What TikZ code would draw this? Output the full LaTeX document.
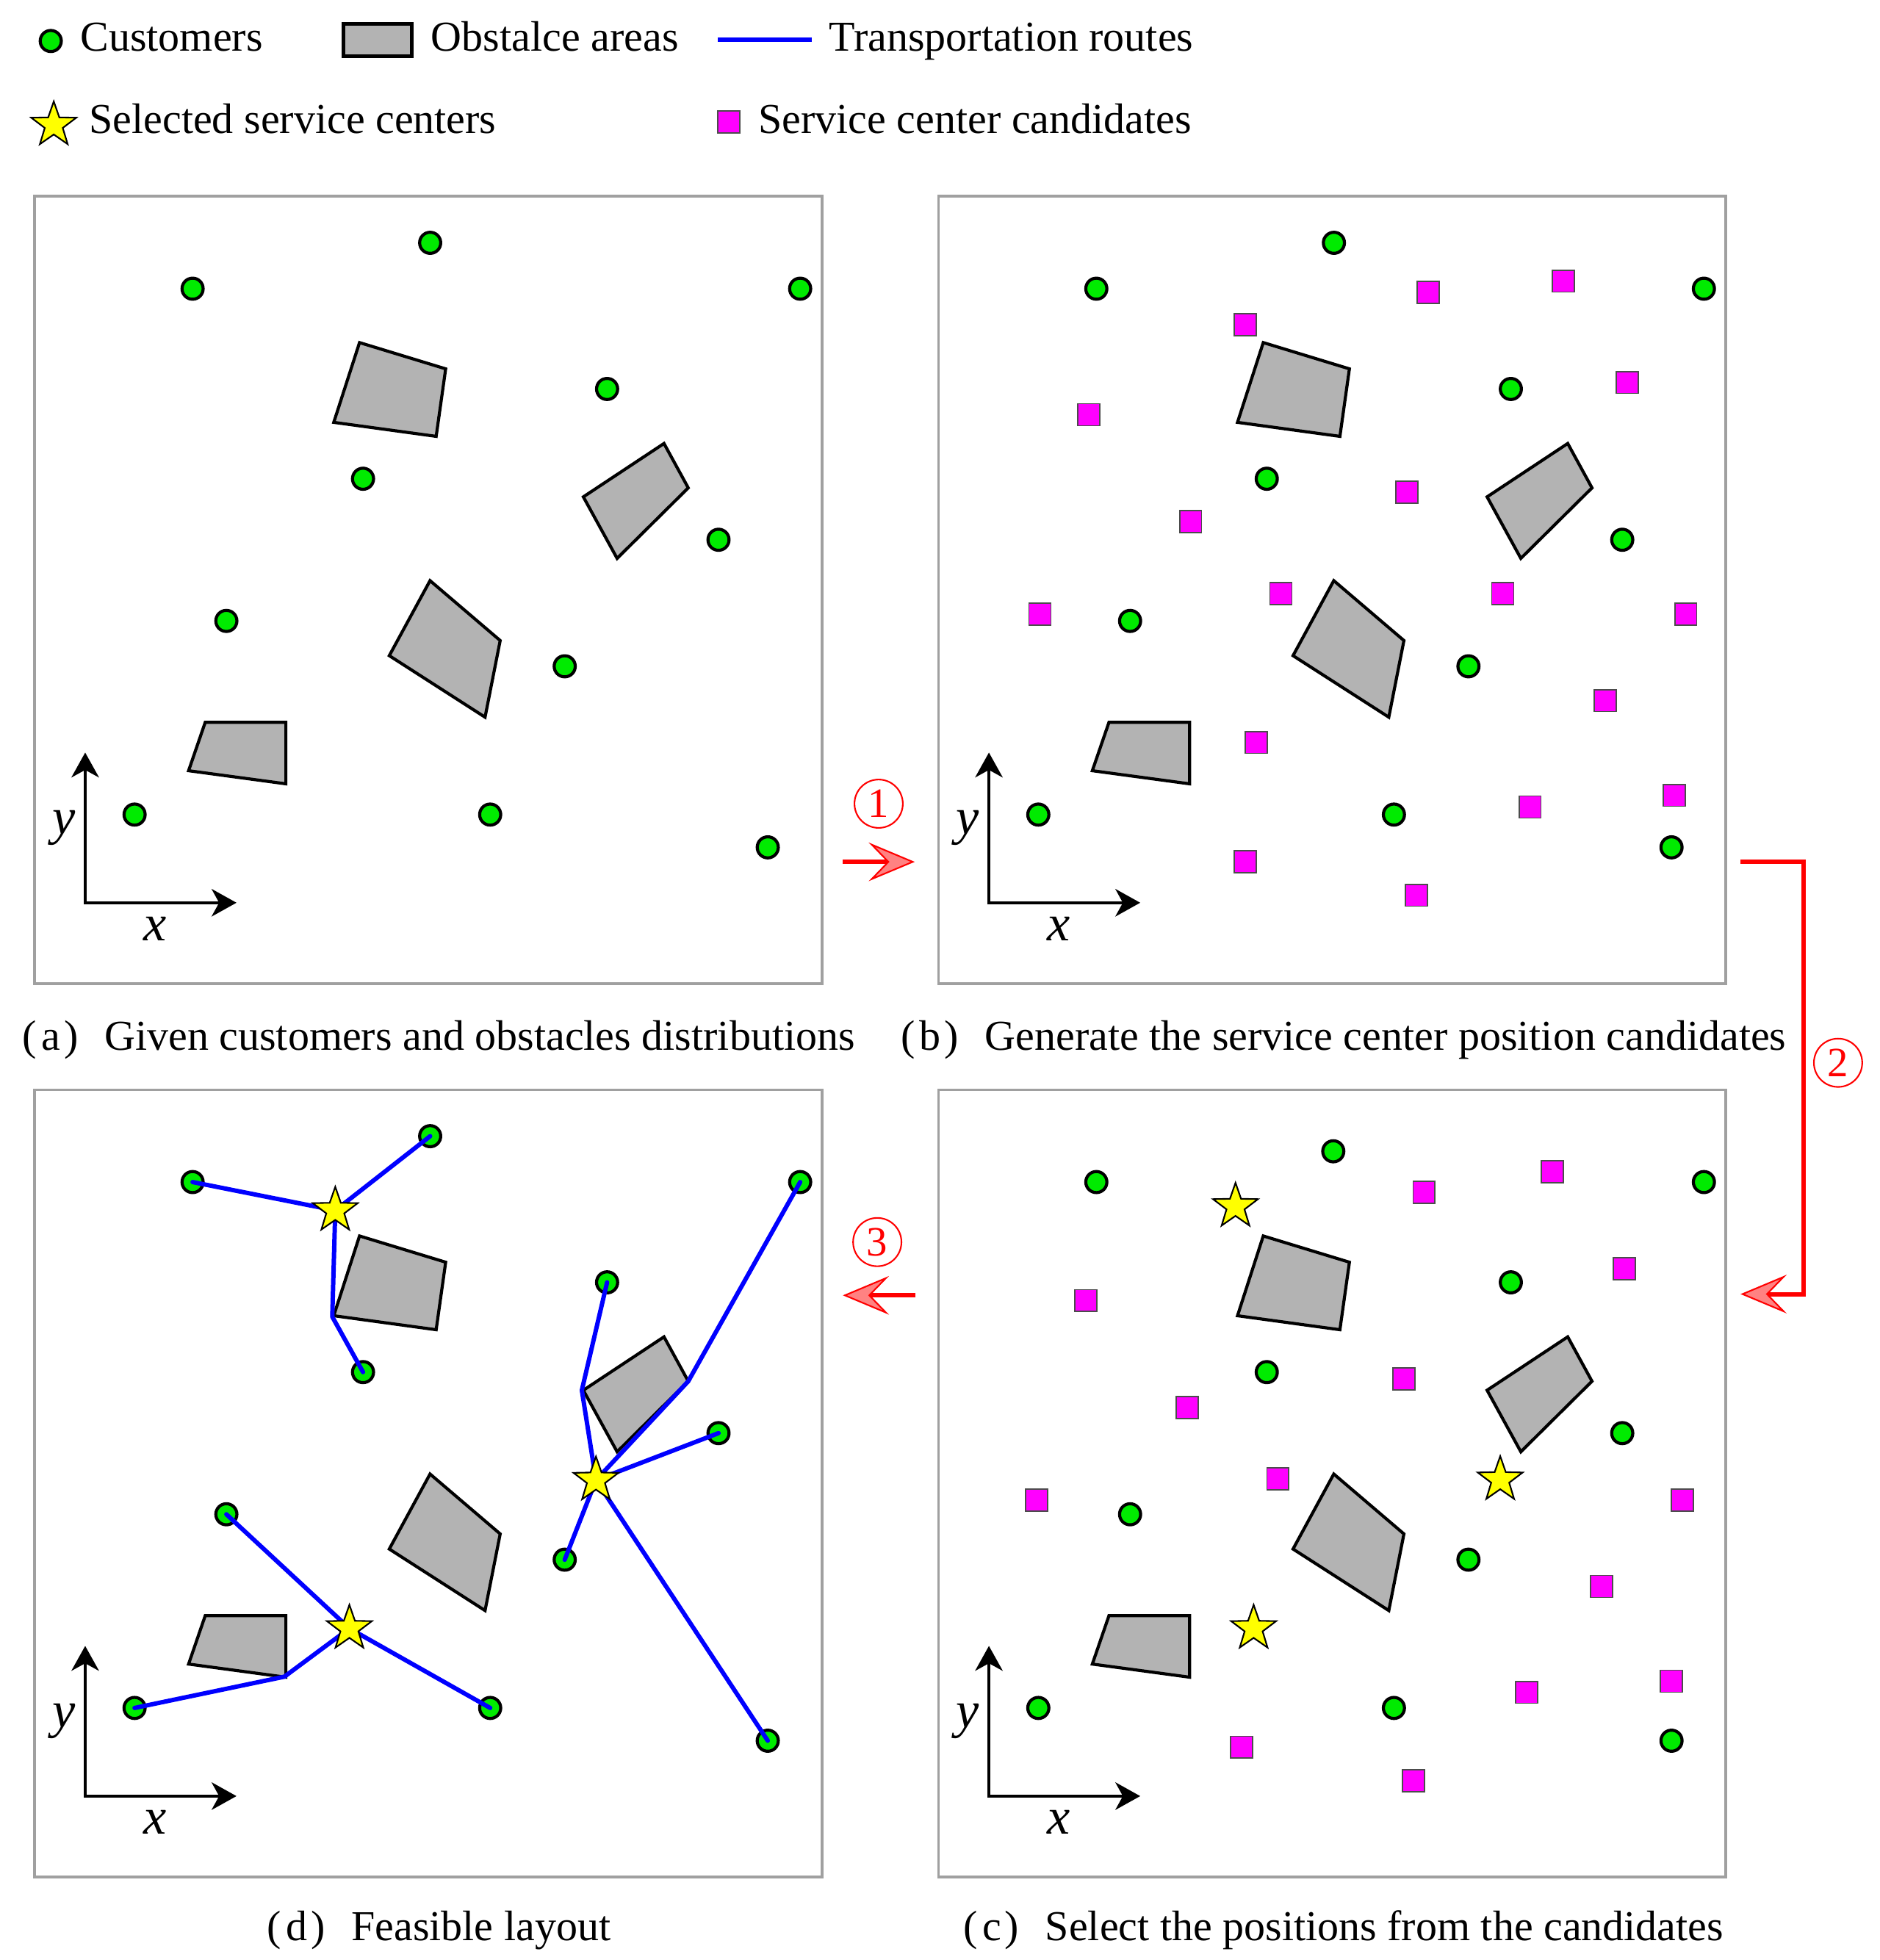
\documentclass[tikz,border=0pt]{standalone}
\usepackage{fontspec}
\setmainfont{Liberation Serif}
\usetikzlibrary{shapes.geometric,arrows.meta}

\definecolor{custgreen}{RGB}{0,235,0}
\definecolor{obsgray}{RGB}{179,179,179}
\definecolor{candmag}{RGB}{255,0,255}
\definecolor{staryel}{RGB}{255,255,0}
\definecolor{routeblue}{RGB}{0,0,255}
\definecolor{flowred}{RGB}{255,0,0}
\definecolor{headred}{RGB}{255,130,130}
\definecolor{framegray}{RGB}{160,160,160}

\newcommand{\panellbl}[1]{(\hspace{0.11em}#1\hspace{0.08em})\hspace{0.62em}}

\tikzset{
 cust/.style={circle, draw=black, fill=custgreen, line width=1.4pt, minimum size=9.6pt, inner sep=0pt},
 cand/.style={rectangle, draw=black!70, fill=candmag, line width=0.6pt, minimum size=10pt, inner sep=0pt},
 selstar/.style={star, star points=5, star point ratio=2.5, draw=black, fill=staryel, line width=0.7pt, minimum size=21.5pt, inner sep=0pt},
 obst/.style={draw=black, fill=obsgray, line width=1.4pt, line join=miter},
 route/.style={draw=routeblue, line width=2pt, line join=round, line cap=round},
 frame/.style={draw=framegray, line width=1.3pt},
 axis/.style={draw=black, line width=1.4pt, line join=miter,
   {Stealth[length=11.3pt, width=12.5pt, inset=3.4pt]}-{Stealth[length=11.3pt, width=12.5pt, inset=3.4pt]}},
 flow/.style={draw=flowred, line width=2pt, line join=miter,
   -{Stealth[length=21pt, width=17.6pt, inset=8.5pt, fill=headred, line width=0.7pt]}},
 stepnum/.style={circle, draw=flowred, line width=0.7pt, minimum size=22pt, inner sep=0pt, text=flowred, font=\fontsize{19}{19}\selectfont},
 legtext/.style={anchor=base west, inner sep=0pt, font=\fontsize{19.4}{23}\selectfont},
 captext/.style={anchor=base, inner sep=0pt, font=\fontsize{19.4}{23}\selectfont},
 axlabel/.style={inner sep=0pt, font=\fontsize{23.5}{26}\selectfont\itshape},
}

% frame, obstacles and axes of one panel (#1 = prefix)
\newcommand{\panelbase}[1]{%
  \draw[frame] (0.8,0.8) rectangle (630.5,630.5);
  \draw[obst] (260.5,117.7) -- (329.4,138.7) -- (321.8,192.7) -- (239.9,181.5) -- cycle;
  \draw[obst] (439.5,241.1) -- (504,198.4) -- (523.4,233.9) -- (466.5,290.3) -- cycle;
  \draw[obst] (316.9,308.1) -- (373,356) -- (360.9,417.3) -- (284.3,368.1) -- cycle;
  \draw[obst] (137.1,421.4) -- (201.6,421.4) -- (201.6,470.6) -- (123.8,460.1) -- cycle;
  \coordinate (#1-o) at (41.1,565.7);
  \coordinate (#1-yt) at (41.1,445.6);
  \coordinate (#1-xt) at (162.1,565.7);
  \draw[axis] (#1-yt) -- (#1-o) -- (#1-xt);
  \node[axlabel] (#1-ylab) at (24.2,506) {y};
  \node[axlabel] (#1-xlab) at (96.8,586.7) {x};
}

% customers of one panel (#1 = prefix, #2 = position of customer 2)
\newcommand{\customerset}[2]{%
  \node[cust] (#1-c1) at (127,74.6) {};
  \node[cust] (#1-c2) at #2 {};
  \node[cust] (#1-c3) at (612.9,74.6) {};
  \node[cust] (#1-c4) at (458.5,154.8) {};
  \node[cust] (#1-c5) at (263.3,226.6) {};
  \node[cust] (#1-c6) at (547.6,275.4) {};
  \node[cust] (#1-c7) at (154,340.3) {};
  \node[cust] (#1-c8) at (424.6,376.6) {};
  \node[cust] (#1-c9) at (80.6,495.2) {};
  \node[cust] (#1-c10) at (365,495.2) {};
  \node[cust] (#1-c11) at (587,521.4) {};
}

\begin{document}
\begin{tikzpicture}[x=0.02cm, y=-0.02cm]
\useasboundingbox (0,0) rectangle (1503,1567.6);

% ---------- legend ----------
\node[cust] (lg-cust) at (40.6,32.8) {};
\node[legtext] (lg-custt) at (64,41) {Customers};
\node[rectangle, draw=black, fill=obsgray, line width=1.8pt, minimum width=31.2pt, minimum height=14.7pt, inner sep=0pt] (lg-obs) at (302,32) {};
\node[legtext] (lg-obst) at (344.5,41) {Obstalce areas};
\coordinate (lg-r1) at (574,31.5);
\coordinate (lg-r2) at (649,31.5);
\draw[route, line cap=butt] (lg-r1) -- (lg-r2);
\node[legtext] (lg-routet) at (662.8,41) {Transportation routes};
\node[selstar] (lg-star) at (43,100) {};
\node[legtext] (lg-start) at (71,106.8) {Selected service centers};
\node[cand] (lg-cand) at (582.7,97.6) {};
\node[legtext] (lg-candt) at (606.3,106.8) {Service center candidates};

% ---------- panel (a) ----------
\begin{scope}[shift={(27.03,156.3)}]
  \panelbase{a}
  \customerset{a}{(317,37.9)}
\end{scope}

% ---------- panel (b) ----------
\begin{scope}[shift={(749.8,156.3)}]
  \panelbase{b}
  \customerset{b}{(317,37.9)}
  \foreach \i/\p in {1/{(246,103.2)}, 2/{(392.3,77.4)}, 3/{(500.4,68.5)}, 4/{(121,175.4)},
                     5/{(551.6,149.6)}, 6/{(375.4,237.5)}, 7/{(202.4,260.9)}, 8/{(274.6,318.5)},
                     9/{(452,318.5)}, 10/{(81.9,334.7)}, 11/{(598.4,334.7)}, 12/{(533.9,404)},
                     13/{(254.8,437.5)}, 14/{(473.8,489.1)}, 15/{(589.1,479.8)}, 16/{(246,532.7)},
                     17/{(383,559.7)}}
    \node[cand] (b-k\i) at \p {};
\end{scope}

% ---------- panel (c) ----------
\begin{scope}[shift={(749.8,870.8)}]
  \panelbase{c}
  \customerset{c}{(316.5,50)}
  \foreach \i/\p in {1/{(389.1,82.7)}, 2/{(491.5,66.5)}, 3/{(118.5,169.4)}, 4/{(549.2,144)},
                     5/{(373,231.9)}, 6/{(199.6,254.8)}, 7/{(272.2,312.1)}, 8/{(79.4,329)},
                     9/{(595.6,329)}, 10/{(531,398)}, 11/{(471,482.7)}, 12/{(586.7,473.8)},
                     13/{(243.1,526.6)}, 14/{(380.6,553.6)}}
    \node[cand] (c-k\i) at \p {};
  \node[selstar] (c-s1) at (238.3,94.1) {};
  \node[selstar] (c-s2) at (450,312.7) {};
  \node[selstar] (c-s3) at (252.8,431.6) {};
\end{scope}

% ---------- panel (d) ----------
\begin{scope}[shift={(27.03,870.8)}]
  \panelbase{d}
  \customerset{d}{(317,37.9)}
  \coordinate (d-s1) at (241.1,97.3);
  \coordinate (d-s2) at (449.6,313);
  \coordinate (d-s3) at (252.4,431.6);
  \coordinate (d-w1) at (238.7,182.3);
  \coordinate (d-w2) at (438.3,241.1);
  \coordinate (d-w3) at (523.4,233.9);
  \coordinate (d-w4) at (200.4,470.2);
  \draw[route] (d-c1.center) -- (d-s1);
  \draw[route] (d-c2.center) -- (d-s1);
  \draw[route] (d-s1) -- (d-w1) -- (d-c5.center);
  \draw[route] (d-s2) -- (d-w2) -- (d-c4.center);
  \draw[route] (d-s2) -- (d-w3) -- (d-c3.center);
  \draw[route] (d-s2) -- (d-c6.center);
  \draw[route] (d-s2) -- (d-c8.center);
  \draw[route] (d-s2) -- (d-c11.center);
  \draw[route] (d-s3) -- (d-c7.center);
  \draw[route] (d-s3) -- (d-c10.center);
  \draw[route] (d-s3) -- (d-w4) -- (d-c9.center);
  \node[selstar] (d-s1n) at (d-s1) {};
  \node[selstar] (d-s2n) at (d-s2) {};
  \node[selstar] (d-s3n) at (d-s3) {};
\end{scope}

% ---------- captions ----------
\node[captext] (cap-a) at (351,840) {\panellbl{a}Given customers and obstacles distributions};
\node[captext] (cap-b) at (1074.5,840) {\panellbl{b}Generate the service center position candidates};
\node[captext] (cap-d) at (351,1552) {\panellbl{d}Feasible layout};
\node[captext] (cap-c) at (1074.5,1552) {\panellbl{c}Select the positions from the candidates};

% ---------- process arrows ----------
\coordinate (f1s) at (673.8,689.3);
\coordinate (f1e) at (731.6,689.3);
\draw[flow] (f1s) -- (f1e);
\node[stepnum] (n1) at (702.7,642.8) {1};

\coordinate (f2s) at (1392,689.1);
\coordinate (f2a) at (1442.5,689.1);
\coordinate (f2b) at (1442.5,1035);
\coordinate (f2e) at (1392,1035);
\draw[flow] (f2s) -- (f2a) -- (f2b) -- (f2e);
\node[stepnum] (n2) at (1470,850) {2};

\coordinate (f3s) at (732.1,1036);
\coordinate (f3e) at (674.1,1036);
\draw[flow] (f3s) -- (f3e);
\node[stepnum] (n3) at (701.6,993.4) {3};
\end{tikzpicture}
\end{document}
